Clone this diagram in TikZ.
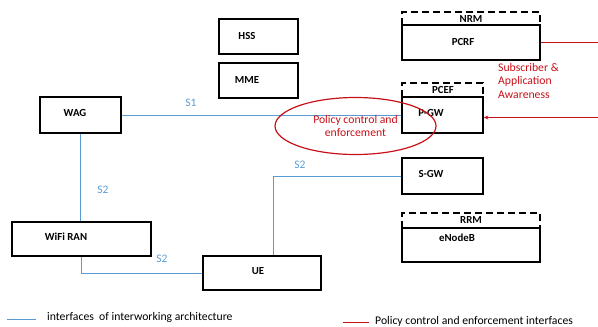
\documentclass[tikz,border=0pt]{standalone}
\usepackage{fontspec}
\setmainfont{Carlito}
\usetikzlibrary{shapes.geometric,arrows.meta}
\definecolor{ifblue}{HTML}{5B9BD5}
\definecolor{pcred}{RGB}{200,16,24}
\tikzset{
  box/.style={draw=black, line width=1.6bp, inner sep=0pt, minimum width=#1},
  box/.default=81bp,
  dashbox/.style={draw=black, line width=1.6bp, dash pattern=on 7bp off 4bp},
  lbl/.style={font=\fontsize{10.8bp}{12bp}\selectfont\bfseries, inner sep=0pt},
  blueline/.style={ifblue, line width=1bp},
  redline/.style={pcred, line width=1.4bp},
  iflabel/.style={text=ifblue, font=\fontsize{11.5bp}{12bp}\selectfont, inner sep=0pt},
  redtext/.style={text=pcred, font=\fontsize{11.7bp}{13.6bp}\selectfont, inner sep=0pt},
  legtext/.style={font=\fontsize{11.7bp}{12bp}\selectfont, inner sep=0pt, anchor=west}
}
\begin{document}
\begin{tikzpicture}[x=1bp, y=-1bp]
\useasboundingbox (0,0) rectangle (598,326);

% dashed function frames sitting on top of their host boxes
\draw[dashbox] (402,25) -- (402,12) -- (540,12) -- (540,25);
\draw[dashbox] (402,97) -- (402,83) -- (483,83) -- (483,97);
\draw[dashbox] (402,228) -- (402,213) -- (540,213) -- (540,228);
\node[lbl] (nrm) at (471,19) {NRM};
\node[lbl] (pcef) at (443,90) {PCEF};
\node[lbl] (rrm) at (471,220) {RRM};

% core network entities
\node[box=79bp, minimum height=35bp] (hss) at (258.5,36.5) {};
\node[box=79bp, minimum height=35bp] (mme) at (258.5,80.5) {};
\node[box=138bp, minimum height=35bp] (pcrf) at (471,42.5) {};
\node[box, minimum height=36bp] (pgw) at (442.5,115) {};
\node[box, minimum height=36bp] (sgw) at (442.5,176) {};
\node[box=138bp, minimum height=34bp] (enb) at (471,245) {};
\node[box, minimum height=36bp] (wag) at (80.5,115) {};
\node[box=139bp, minimum height=34bp] (wifi) at (81.5,239) {};
\node[box=118bp, minimum height=34bp] (ue) at (262,273) {};

\node[lbl] (hsst) at (247,36) {HSS};
\node[lbl] (mmet) at (247,80) {MME};
\node[lbl] (pcrft) at (463,42) {PCRF};
\node[lbl] (pgwt) at (431,113) {P-GW};
\node[lbl] (sgwt) at (431,174) {S-GW};
\node[lbl] (enbt) at (457,238) {eNodeB};
\node[lbl] (wagt) at (75,113) {WAG};
\node[lbl] (wifit) at (66,237) {WiFi RAN};
\node[lbl] (uet) at (258,271) {UE};

% interworking interfaces
\draw[blueline] (wag.east) -- (pgw.west);
\draw[blueline] (wag.south) -- (wag.south |- wifi.north);
\draw[blueline] (wifi.south) |- (ue.west);
\draw[blueline] ([xshift=11bp]ue.north) |- (sgw.west);
\node[iflabel] (s1) at (191,103) {S1};
\node[iflabel] (s2a) at (103,190) {S2};
\node[iflabel] (s2b) at (162,259) {S2};
\node[iflabel] (s2c) at (300,165) {S2};

% policy control and enforcement
\node[draw=pcred, line width=1.2bp, ellipse, minimum width=161bp, minimum height=57bp,
      inner sep=0pt, align=center, redtext] (pce) at (355.5,126)
      {Policy control and\\enforcement};
\coordinate (pcrfout) at (598,42.5);
\coordinate (pgwin) at (598,117.5);
\draw[redline] (pcrf.east |- pcrfout) -- (pcrfout);
\draw[redline, -{Stealth[length=4.5bp, width=4bp]}] (pgwin) -- (pgw.east |- pgwin);
\node[redtext, anchor=north west, align=left] (aware) at (498,63)
      {Subscriber \&\\Application\\Awareness};

% legend
\coordinate (lb1) at (7,319.5);
\coordinate (lb2) at (36,319.5);
\draw[blueline] (lb1) -- (lb2);
\node[legtext] (legb) at (47,317) {interfaces\ \ of interworking architecture};
\coordinate (lr1) at (343,322.5);
\coordinate (lr2) at (369,322.5);
\draw[redline] (lr1) -- (lr2);
\node[legtext] (legr) at (375,321) {Policy control and enforcement interfaces};
\end{tikzpicture}
\end{document}
